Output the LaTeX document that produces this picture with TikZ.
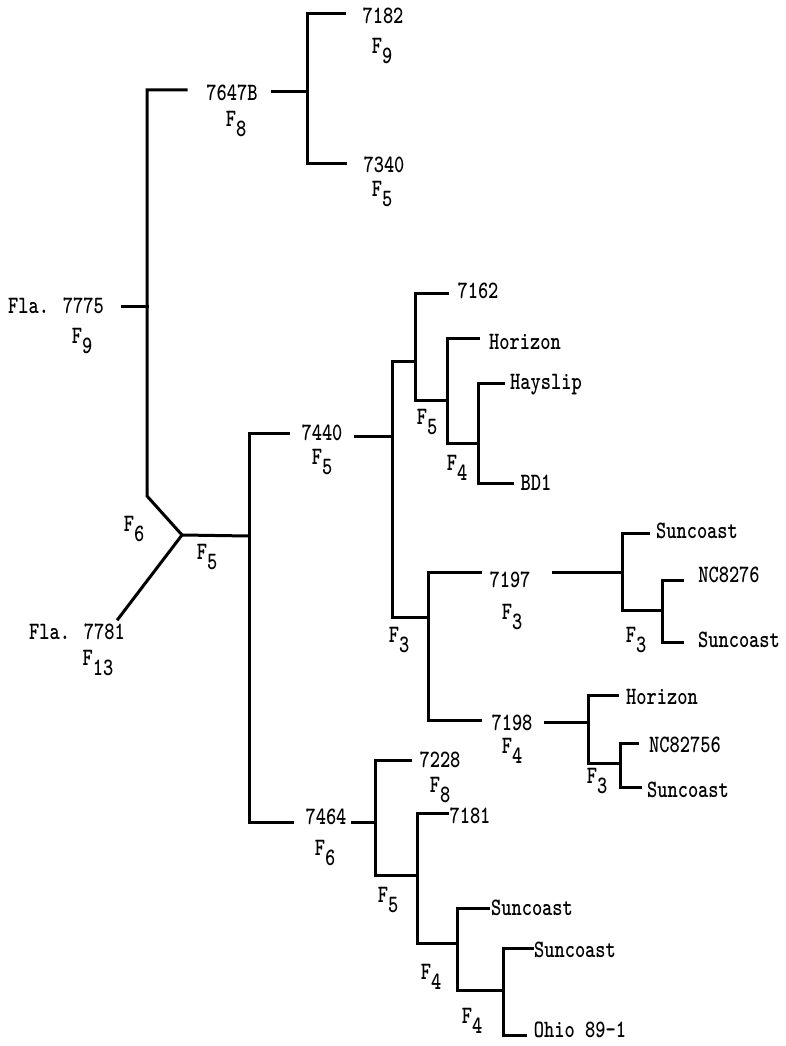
\documentclass[tikz,border=0pt]{standalone}
\usepackage{fontspec}
\usepackage{graphicx}
\newcommand\sy[1]{\scalebox{1}[1.28]{#1}}
\newcommand\Fs[1]{\sy{F\raisebox{-7.5pt}{#1}}}
\tikzset{
  lbl/.style={inner sep=0pt, font=\fontsize{19.5}{20}\ttfamily\bfseries},
  br/.style={line width=3pt, line join=miter, line cap=rect}
}
\begin{document}
\begin{tikzpicture}[x=1pt,y=-1pt]
\useasboundingbox (0,0) rectangle (785,1046);
% ---------- coordinates ----------
% root
\coordinate (r0e) at (186,90);
\coordinate (r0) at (147,90);
\coordinate (rk) at (147,306);
\coordinate (rke) at (122,306);
\coordinate (rb) at (147,496);
\coordinate (c) at (182,535);
\coordinate (fl81) at (118,619);
\coordinate (m0) at (249,536);
% 7647B clade
\coordinate (s1) at (272,92);
\coordinate (j1) at (307,92);
\coordinate (j1t) at (307,14);
\coordinate (t1e) at (344,14);
\coordinate (j1b) at (307,163);
\coordinate (t2e) at (345,163);
% main vertical
\coordinate (m1t) at (249,433);
\coordinate (m1te) at (288,433);
\coordinate (m1b) at (249,822);
\coordinate (m1be) at (292,822);
% 7440 clade
\coordinate (s2) at (355,436);
\coordinate (j2) at (392,436);
\coordinate (j2t) at (392,361);
\coordinate (j2te) at (415,361);
\coordinate (j2b) at (392,617);
\coordinate (j2be) at (428,617);
\coordinate (j3t) at (415,293);
\coordinate (j3te) at (447,293);
\coordinate (j3b) at (415,400);
\coordinate (j3be) at (447,400);
\coordinate (j4t) at (447,338);
\coordinate (j4te) at (478,338);
\coordinate (j4b) at (447,443);
\coordinate (j4be) at (478,443);
\coordinate (j5t) at (478,383);
\coordinate (j5te) at (503,383);
\coordinate (j5b) at (478,483);
\coordinate (j5be) at (512,483);
\coordinate (j6t) at (428,572);
\coordinate (j6te) at (480,572);
\coordinate (j6b) at (428,720);
\coordinate (j6be) at (480,720);
% 7197 subclade
\coordinate (s3) at (553,572);
\coordinate (j7) at (622,572);
\coordinate (j7t) at (622,533);
\coordinate (j7te) at (648,533);
\coordinate (j7b) at (622,610);
\coordinate (j7be) at (662,610);
\coordinate (j8t) at (662,580);
\coordinate (j8te) at (682,580);
\coordinate (j8b) at (662,642);
\coordinate (j8be) at (682,642);
% 7198 subclade
\coordinate (s4) at (545,722);
\coordinate (j9) at (588,722);
\coordinate (j9t) at (588,695);
\coordinate (j9te) at (617,695);
\coordinate (j9b) at (588,763);
\coordinate (j9be) at (620,763);
\coordinate (j10t) at (620,743);
\coordinate (j10te) at (637,743);
\coordinate (j10b) at (620,787);
\coordinate (j10be) at (640,787);
% 7464 clade
\coordinate (s5) at (352,822);
\coordinate (j11) at (375,822);
\coordinate (j11t) at (375,760);
\coordinate (j11te) at (410,760);
\coordinate (j11b) at (375,875);
\coordinate (j11be) at (417,875);
\coordinate (j12t) at (417,813);
\coordinate (j12te) at (447,813);
\coordinate (j12b) at (417,943);
\coordinate (j12be) at (457,943);
\coordinate (j13t) at (457,908);
\coordinate (j13te) at (488,908);
\coordinate (j13b) at (457,990);
\coordinate (j13be) at (503,990);
\coordinate (j14t) at (503,948);
\coordinate (j14te) at (532,948);
\coordinate (j14b) at (503,1035);
\coordinate (j14be) at (525,1035);
% ---------- lines ----------
\draw[br] (r0e) -- (r0) -- (rb) -- (c) -- (m0);
\draw[br] (c) -- (fl81);
\draw[br] (rke) -- (rk);
\draw[br] (s1) -- (j1);
\draw[br] (t1e) -- (j1t) -- (j1b) -- (t2e);
\draw[br] (m1te) -- (m1t) -- (m1b) -- (m1be);
\draw[br] (s2) -- (j2);
\draw[br] (j2te) -- (j2t) -- (j2b) -- (j2be);
\draw[br] (j3te) -- (j3t) -- (j3b) -- (j3be);
\draw[br] (j4te) -- (j4t) -- (j4b) -- (j4be);
\draw[br] (j5te) -- (j5t) -- (j5b) -- (j5be);
\draw[br] (j6te) -- (j6t) -- (j6b) -- (j6be);
\draw[br] (s3) -- (j7);
\draw[br] (j7te) -- (j7t) -- (j7b) -- (j7be);
\draw[br] (j8te) -- (j8t) -- (j8b) -- (j8be);
\draw[br] (s4) -- (j9);
\draw[br] (j9te) -- (j9t) -- (j9b) -- (j9be);
\draw[br] (j10te) -- (j10t) -- (j10b) -- (j10be);
\draw[br] (s5) -- (j11);
\draw[br] (j11te) -- (j11t) -- (j11b) -- (j11be);
\draw[br] (j12te) -- (j12t) -- (j12b) -- (j12be);
\draw[br] (j13te) -- (j13t) -- (j13b) -- (j13be);
\draw[br] (j14te) -- (j14t) -- (j14b) -- (j14be);
% ---------- labels ----------
\node[lbl] (l7775) at (56,306) {\sy{Fla. 7775}};
\node[lbl] (l7775f) at (82,341) {\Fs{9}};
\node[lbl] (l6) at (134,529) {\Fs{6}};
\node[lbl] (l5r) at (207,557) {\Fs{5}};
\node[lbl] (l7781) at (77,632) {\sy{Fla. 7781}};
\node[lbl] (l7781f) at (98,663) {\Fs{13}};
\node[lbl] (l7647) at (232,93) {\sy{7647B}};
\node[lbl] (l7647f) at (236,124) {\Fs{8}};
\node[lbl] (l7182) at (383,16) {\sy{7182}};
\node[lbl] (l7182f) at (382,51) {\Fs{9}};
\node[lbl] (l7340) at (384,165) {\sy{7340}};
\node[lbl] (l7340f) at (382,194) {\Fs{5}};
\node[lbl] (l7440) at (322,433) {\sy{7440}};
\node[lbl] (l7440f) at (322,462) {\Fs{5}};
\node[lbl] (l7162) at (478,291) {\sy{7162}};
\node[lbl] (lf5a) at (427,422) {\Fs{5}};
\node[lbl] (lhor1) at (525,342) {\sy{Horizon}};
\node[lbl] (lf4a) at (457,468) {\Fs{4}};
\node[lbl] (lhay) at (546,385) {\sy{Hayslip}};
\node[lbl] (lbd1) at (536,483) {\sy{BD1}};
\node[lbl] (lf3a) at (399,640) {\Fs{3}};
\node[lbl] (l7197) at (510,580) {\sy{7197}};
\node[lbl] (l7197f) at (512,617) {\Fs{3}};
\node[lbl] (l7198) at (512,723) {\sy{7198}};
\node[lbl] (l7198f) at (512,751) {\Fs{4}};
\node[lbl] (lsun1) at (697,531) {\sy{Suncoast}};
\node[lbl] (lf3b) at (636,640) {\Fs{3}};
\node[lbl] (lnc1) at (729,575) {\sy{NC8276}};
\node[lbl] (lsun2) at (739,640) {\sy{Suncoast}};
\node[lbl] (lhor2) at (662,697) {\sy{Horizon}};
\node[lbl] (lf3c) at (597,781) {\Fs{3}};
\node[lbl] (lnc2) at (685,745) {\sy{NC82756}};
\node[lbl] (lsun3) at (688,790) {\sy{Suncoast}};
\node[lbl] (l7464) at (326,817) {\sy{7464}};
\node[lbl] (l7464f) at (325,853) {\Fs{6}};
\node[lbl] (l7228) at (440,760) {\sy{7228}};
\node[lbl] (l7228f) at (440,790) {\Fs{8}};
\node[lbl] (lf5b) at (388,900) {\Fs{5}};
\node[lbl] (l7181) at (470,816) {\sy{7181}};
\node[lbl] (lf4b) at (431,977) {\Fs{4}};
\node[lbl] (lsun4) at (532,908) {\sy{Suncoast}};
\node[lbl] (lf4c) at (472,1021) {\Fs{4}};
\node[lbl] (lsun5) at (575,950) {\sy{Suncoast}};
\node[lbl] (lohio) at (580,1030) {\sy{Ohio 89-1}};
\end{tikzpicture}
\end{document}
